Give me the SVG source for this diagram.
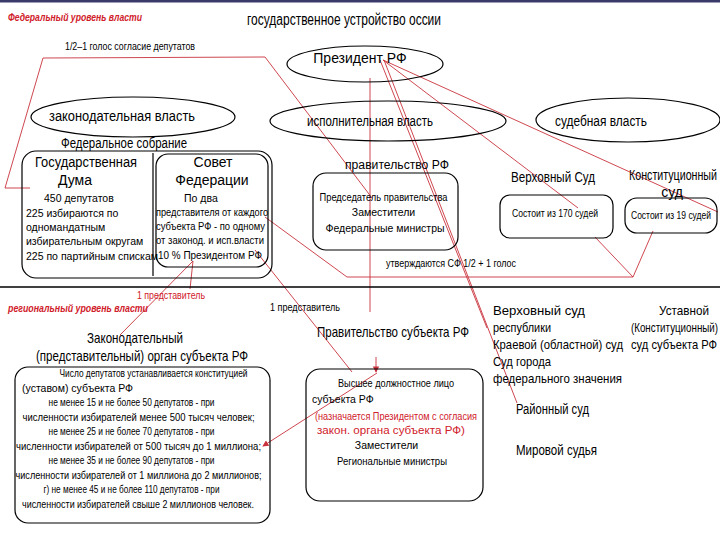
<svg xmlns="http://www.w3.org/2000/svg" width="720" height="540" viewBox="0 0 720 540">
<defs>
<style>
.t{font-family:"Liberation Sans",Arial,sans-serif;fill:#000}
.r{fill:#d0202a}
.b{fill:none;stroke:#000;stroke-width:1.2}
.c{fill:none;stroke:#c8323c;stroke-width:0.9}
</style>
<marker id="ar" viewBox="0 0 8 8" refX="7" refY="4" markerWidth="7" markerHeight="7" orient="auto">
<path d="M0,0 L8,4 L0,8 z" fill="#c8323c"/>
</marker>
</defs>
<rect x="0" y="0" width="720" height="540" fill="#fff"/>
<rect x="0" y="0" width="720" height="2.5" fill="#3a3a6a"/>

<g id="headers">
<text class="t r" x="8" y="21" font-size="10" font-weight="bold" font-style="italic" textLength="134" lengthAdjust="spacingAndGlyphs">Федеральный уровень власти</text>
<text class="t" x="247" y="25" font-size="16" textLength="194" lengthAdjust="spacingAndGlyphs">государственное устройство оссии</text>
<text class="t" x="65" y="50" font-size="10" textLength="130" lengthAdjust="spacingAndGlyphs">1/2–1 голос согласие депутатов</text>
</g>

<g id="connectors">
<polyline class="c" points="30,188 5,188 43,58 265,57 372,198"/>
<line class="c" x1="370" y1="78" x2="370" y2="312"/>
<line class="c" x1="376" y1="357" x2="376" y2="372" marker-end="url(#ar)"/>
<line class="c" x1="383" y1="60" x2="718" y2="212"/>
<line class="c" x1="383" y1="60" x2="578" y2="208"/>
<line class="c" x1="380" y1="60" x2="487" y2="328"/>
<line class="c" x1="384" y1="60" x2="517" y2="403"/>
<polyline class="c" points="265,217 347,277 633,277"/>
<line class="c" x1="633" y1="277" x2="595" y2="237"/>
<line class="c" x1="633" y1="277" x2="653" y2="231"/>
<line class="c" x1="193" y1="261" x2="120" y2="335"/>
<line class="c" x1="193" y1="261" x2="190" y2="289"/>
<line class="c" x1="255" y1="250" x2="352" y2="372"/>
<line class="c" x1="377" y1="373" x2="263" y2="446" marker-end="url(#ar)"/>
</g>

<line x1="0" y1="287" x2="720" y2="287" stroke="#000" stroke-width="1.3"/>

<g id="president">
<ellipse class="b" cx="365" cy="64" rx="78" ry="18"/>
<text class="t" x="360" y="63" font-size="14" text-anchor="middle">Президент РФ</text>
</g>

<g id="legislative">
<ellipse class="b" cx="133" cy="117" rx="102" ry="20"/>
<text class="t" x="122" y="121" font-size="14" text-anchor="middle" textLength="146" lengthAdjust="spacingAndGlyphs">законодательная власть</text>
</g>

<g id="executive">
<ellipse class="b" cx="388" cy="121" rx="118" ry="20"/>
<text class="t" x="370" y="126" font-size="14" text-anchor="middle" textLength="126" lengthAdjust="spacingAndGlyphs">исполнительная власть</text>
</g>

<g id="judicial">
<ellipse class="b" cx="628" cy="120" rx="92" ry="22"/>
<text class="t" x="601" y="126" font-size="14" text-anchor="middle" textLength="92" lengthAdjust="spacingAndGlyphs">судебная власть</text>
</g>

<g id="fed-assembly">
<text class="t" x="124" y="148" font-size="14" text-anchor="middle" textLength="126" lengthAdjust="spacingAndGlyphs">Федеральное собрание</text>
<rect class="b" x="22" y="151" width="250" height="127" rx="14"/>
</g>

<g id="duma">
<line class="b" x1="153" y1="153" x2="153" y2="276"/>
<text class="t" x="86" y="167" font-size="14" text-anchor="middle" textLength="102" lengthAdjust="spacingAndGlyphs">Государственная</text>
<text class="t" x="75" y="185" font-size="14" text-anchor="middle">Дума</text>
<text class="t" font-size="10.5">
<tspan x="44" y="202">450 депутатов</tspan>
<tspan x="26" y="217">225  избираются по</tspan>
<tspan x="26" y="231">одномандатным</tspan>
<tspan x="26" y="245">избирательным округам</tspan>
<tspan x="26" y="260">225  по партийным спискам</tspan>
</text>
</g>

<g id="federation-council">
<rect class="b" x="156" y="154" width="112" height="113" rx="12"/>
<text class="t" x="213" y="167" font-size="14" text-anchor="middle">Совет</text>
<text class="t" x="212" y="185" font-size="14" text-anchor="middle">Федерации</text>
<text class="t" font-size="10.5">
<tspan x="184" y="202">По два</tspan>
<tspan x="156" y="216" textLength="112" lengthAdjust="spacingAndGlyphs">представителя от каждого</tspan>
<tspan x="156" y="230" textLength="109" lengthAdjust="spacingAndGlyphs">субъекта РФ - по одному</tspan>
<tspan x="156" y="244" textLength="108" lengthAdjust="spacingAndGlyphs">от законод. и исп.власти</tspan>
<tspan x="158" y="259" textLength="104" lengthAdjust="spacingAndGlyphs">10 %  Президентом РФ</tspan>
</text>
</g>

<g id="government">
<text class="t" x="397" y="169" font-size="12.5" text-anchor="middle" textLength="104" lengthAdjust="spacingAndGlyphs">правительство РФ</text>
<rect class="b" x="313" y="173" width="145" height="77" rx="13"/>
<text class="t" font-size="10.5" text-anchor="middle">
<tspan x="385" y="201" textLength="128" lengthAdjust="spacingAndGlyphs">Председатель правительства</tspan>
<tspan x="385" y="216">Заместители</tspan>
<tspan x="385" y="232">Федеральные министры</tspan>
</text>
<text class="t" x="386" y="267" font-size="10.5" textLength="130" lengthAdjust="spacingAndGlyphs">утверждаются СФ 1/2 + 1 голос</text>
</g>

<g id="supreme-court">
<text class="t" x="553" y="182" font-size="14" text-anchor="middle" textLength="84" lengthAdjust="spacingAndGlyphs">Верховный Суд</text>
<rect class="b" x="500" y="195" width="113" height="43" rx="10"/>
<text class="t" x="555" y="217" font-size="10" text-anchor="middle" textLength="86" lengthAdjust="spacingAndGlyphs">Состоит из 170 судей</text>
</g>

<g id="constitutional-court">
<text class="t" x="673" y="180" font-size="14" text-anchor="middle" textLength="88" lengthAdjust="spacingAndGlyphs">Конституционный</text>
<text class="t" x="672" y="197" font-size="14" text-anchor="middle">суд</text>
<rect class="b" x="625" y="198" width="92" height="35" rx="12"/>
<text class="t" x="671" y="219" font-size="10" text-anchor="middle" textLength="80" lengthAdjust="spacingAndGlyphs">Состоит из 19 судей</text>
</g>

<g id="regional-headers">
<text class="t r" x="137" y="299" font-size="10" textLength="68" lengthAdjust="spacingAndGlyphs">1 представитель</text>
<text class="t r" x="8" y="312" font-size="10" font-weight="bold" font-style="italic" textLength="140" lengthAdjust="spacingAndGlyphs">региональный уровень власти</text>
<text class="t" x="270" y="311" font-size="10" textLength="70" lengthAdjust="spacingAndGlyphs">1 представитель</text>
</g>

<g id="regional-legislature">
<text class="t" x="135" y="343" font-size="15" text-anchor="middle" textLength="96" lengthAdjust="spacingAndGlyphs">Законодательный</text>
<text class="t" x="142" y="361" font-size="15" text-anchor="middle" textLength="212" lengthAdjust="spacingAndGlyphs">(представительный) орган субъекта РФ</text>
<rect class="b" x="15" y="367" width="255" height="156" rx="13"/>
<text class="t" font-size="10.5" text-anchor="middle">
<tspan x="155" y="377" textLength="188" lengthAdjust="spacingAndGlyphs">Число депутатов устанавливается конституцией</tspan>
<tspan x="22" y="392" text-anchor="start">(уставом) субъекта РФ</tspan>
<tspan x="133" y="406" textLength="166" lengthAdjust="spacingAndGlyphs">не менее 15 и не более 50 депутатов - при</tspan>
<tspan x="140" y="421" textLength="232" lengthAdjust="spacingAndGlyphs">численности избирателей менее 500 тысяч человек;</tspan>
<tspan x="133" y="435" textLength="166" lengthAdjust="spacingAndGlyphs">не менее 25 и не более 70 депутатов - при</tspan>
<tspan x="140" y="450" textLength="245" lengthAdjust="spacingAndGlyphs">численности избирателей от 500 тысяч до 1 миллиона;</tspan>
<tspan x="133" y="464" textLength="166" lengthAdjust="spacingAndGlyphs">не менее 35 и не более 90 депутатов - при</tspan>
<tspan x="140" y="479" textLength="246" lengthAdjust="spacingAndGlyphs">численности избирателей от 1 миллиона до 2 миллионов;</tspan>
<tspan x="133" y="493" textLength="176" lengthAdjust="spacingAndGlyphs">г) не менее 45 и не более 110 депутатов - при</tspan>
<tspan x="138" y="508" textLength="232" lengthAdjust="spacingAndGlyphs">численности избирателей свыше 2 миллионов человек.</tspan>
</text>
</g>

<g id="regional-government">
<text class="t" x="393" y="337" font-size="15" text-anchor="middle" textLength="152" lengthAdjust="spacingAndGlyphs">Правительство субъекта РФ</text>
<rect class="b" x="306" y="369" width="177" height="132" rx="14"/>
<text class="t" font-size="10.5">
<tspan x="338" y="387" textLength="116" lengthAdjust="spacingAndGlyphs">Высшее должностное лицо</tspan>
<tspan x="312" y="403">субъекта РФ</tspan>
</text>
<text class="t r" font-size="10.5">
<tspan x="315" y="420" textLength="162" lengthAdjust="spacingAndGlyphs">(назначается Президентом с согласия</tspan>
<tspan x="317" y="434" textLength="148" lengthAdjust="spacingAndGlyphs">закон. органа субъекта РФ)</tspan>
</text>
<text class="t" font-size="10.5" text-anchor="middle">
<tspan x="388" y="449">Заместители</tspan>
<tspan x="392" y="465" textLength="110" lengthAdjust="spacingAndGlyphs">Региональные министры</tspan>
</text>
</g>

<g id="regional-courts">
<text class="t" font-size="13">
<tspan x="493" y="315" textLength="92" lengthAdjust="spacingAndGlyphs">Верховный суд</tspan>
<tspan x="493" y="332" textLength="58" lengthAdjust="spacingAndGlyphs">республики</tspan>
<tspan x="493" y="349" textLength="130" lengthAdjust="spacingAndGlyphs">Краевой (областной) суд</tspan>
<tspan x="493" y="366" textLength="58" lengthAdjust="spacingAndGlyphs">Суд города</tspan>
<tspan x="493" y="383" textLength="129" lengthAdjust="spacingAndGlyphs">федерального значения</tspan>
</text>
<text class="t" x="516" y="414" font-size="14" textLength="73" lengthAdjust="spacingAndGlyphs">Районный суд</text>
<text class="t" x="516" y="455" font-size="14" textLength="81" lengthAdjust="spacingAndGlyphs">Мировой судья</text>
</g>

<g id="regional-constitutional-court">
<text class="t" font-size="13">
<tspan x="659" y="315" textLength="50" lengthAdjust="spacingAndGlyphs">Уставной</tspan>
<tspan x="631" y="332" textLength="87" lengthAdjust="spacingAndGlyphs">(Конституционный)</tspan>
<tspan x="631" y="349" textLength="86" lengthAdjust="spacingAndGlyphs">суд субъекта РФ</tspan>
</text>
</g>
</svg>
